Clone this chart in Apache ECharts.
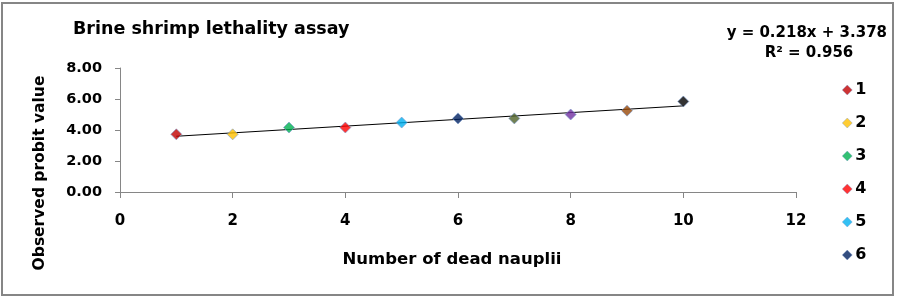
<!DOCTYPE html>
<html>
<head>
<meta charset="utf-8">
<script src="https://cdn.jsdelivr.net/npm/echarts@6/dist/echarts.min.js"></script>
<style>
html,body{margin:0;padding:0;background:#fff;}
#c{width:897px;height:299px;}
</style>
</head>
<body>
<div id="c"></div>
<script>
const deadNauplii = [1, 2, 3, 4, 5, 6, 7, 8, 9, 10];
const probitValues = [3.72, 3.72, 4.16, 4.16, 4.48, 4.75, 4.75, 5.00, 5.25, 5.84];
const seriesNames = ['1', '2', '3', '4', '5', '6', '7', '8', '9', '10'];
const seriesColors = ['#C00000', '#FFC000', '#00B050', '#FF0000', '#00B0F0', '#002060', '#4F6228', '#7030A0', '#984807', '#000000'];
const legendNames = ['1', '2', '3', '4', '5', '6'];
const trendSlope = 0.218;
const trendIntercept = 3.378;
const yTicks = [0, 2, 4, 6, 8];
const xTicks = [0, 2, 4, 6, 8, 10, 12];

const FONT = '"DejaVu Sans", sans-serif';
const chart = echarts.init(document.getElementById('c'), null, {renderer: 'canvas'});

const pointSeries = deadNauplii.map((x, i) => ({
  name: seriesNames[i],
  type: 'scatter',
  symbol: 'diamond',
  symbolSize: 11,
  itemStyle: {color: seriesColors[i], borderColor: '#7c9ccc', borderWidth: 0.8},
  data: [[x, probitValues[i]]],
  z: 3
}));

const xStart = deadNauplii[0], xEnd = deadNauplii[deadNauplii.length - 1];
const trendSeries = {
  name: 'trend',
  type: 'line',
  symbol: 'none',
  lineStyle: {color: '#000', width: 1},
  data: [[xStart, trendSlope * xStart + trendIntercept], [xEnd, trendSlope * xEnd + trendIntercept]],
  z: 2,
  silent: true
};

chart.setOption({
  animation: false,
  backgroundColor: '#fff',
  title: {
    text: 'Brine shrimp lethality assay',
    left: 68, top: 15,
    textStyle: {fontFamily: FONT, fontSize: 17.5, fontWeight: 'bold', color: '#000'}
  },
  grid: {left: 120, right: 101, top: 68, bottom: 107, containLabel: false},
  xAxis: {
    type: 'value', min: xTicks[0], max: xTicks[xTicks.length - 1], interval: 2,
    axisLine: {lineStyle: {color: '#868686', width: 1}},
    axisTick: {show: true, inside: false, length: 6, lineStyle: {color: '#868686'}},
    splitLine: {show: false},
    axisLabel: {margin: 22, fontFamily: FONT, fontSize: 15, fontWeight: 'bold', color: '#000'}
  },
  yAxis: {
    type: 'value', min: yTicks[0], max: yTicks[yTicks.length - 1], interval: 2,
    axisLine: {show: true, lineStyle: {color: '#868686', width: 1}},
    axisTick: {show: true, inside: false, length: 5, lineStyle: {color: '#868686'}},
    splitLine: {show: false},
    axisLabel: {margin: 18, fontFamily: FONT, fontSize: 14.5, fontWeight: 'bold', color: '#000',
      formatter: v => v.toFixed(2)}
  },
  legend: {
    data: legendNames.map(n => ({name: n, icon: 'diamond'})),
    orient: 'vertical',
    left: 837, top: 77,
    itemWidth: 10, itemHeight: 10, itemGap: 17,
    itemStyle: {borderWidth: 0.5},
    textStyle: {fontFamily: FONT, fontSize: 16, fontWeight: 'bold', color: '#000', padding: [0, 0, 0, -2]}
  },
  graphic: [
    {type: 'rect', shape: {x: 2, y: 3, width: 891, height: 292}, style: {fill: 'none', stroke: '#868686', lineWidth: 2}, silent: true},
    {type: 'text', x: 40, y: 173, style: {text: 'Observed probit value', font: 'bold 15.5px ' + FONT, fill: '#000', align: 'center', verticalAlign: 'middle'}, rotation: Math.PI / 2, silent: true},
    {type: 'text', x: 452, y: 260, style: {text: 'Number of dead nauplii', font: 'bold 16.5px ' + FONT, fill: '#000', align: 'center', verticalAlign: 'middle'}, silent: true},
    {type: 'text', x: 887, y: 33, style: {text: 'y = 0.218x + 3.378', font: 'bold 15px ' + FONT, fill: '#000', align: 'right', verticalAlign: 'middle'}, silent: true},
    {type: 'text', x: 809, y: 53, style: {text: 'R² = 0.956', font: 'bold 15px ' + FONT, fill: '#000', align: 'center', verticalAlign: 'middle'}, silent: true}
  ],
  series: pointSeries.concat([trendSeries])
});
</script>
</body>
</html>
